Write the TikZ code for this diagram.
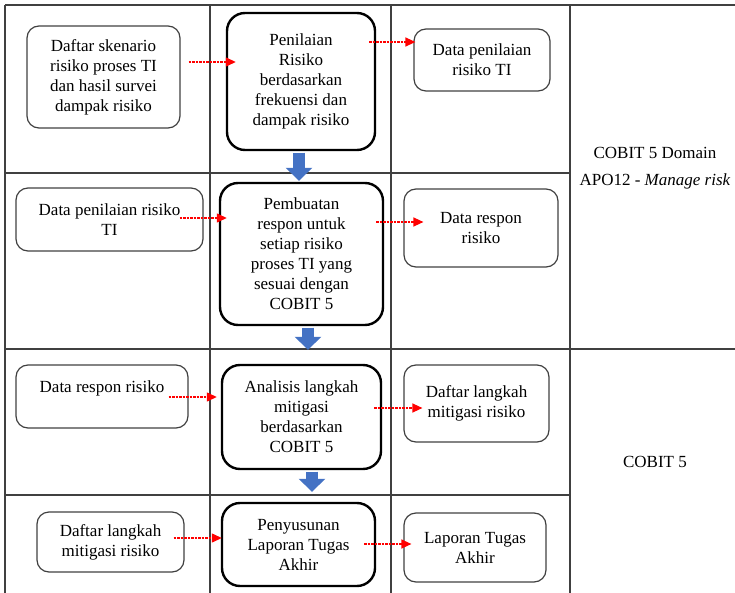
\documentclass[tikz,border=0pt]{standalone}
\usepackage{fontspec}
\setmainfont{Liberation Serif}
\newfontfamily\boxfont{Liberation Serif}
\usepackage{xcolor}
\usepackage{tikz}
\usetikzlibrary{arrows.meta}

\definecolor{flowblue}{HTML}{4472C4}
\definecolor{gridgray}{HTML}{404040}

\begin{document}
\begin{tikzpicture}[
    x=1pt, y=-1pt,
    font=\boxfont\fontsize{17}{20}\selectfont,
    box/.style={rectangle, rounded corners=12pt, draw=gridgray, line width=1.2pt, inner sep=0pt, align=center},
    mainbox/.style={rectangle, rounded corners=18pt, draw=black, line width=2.4pt, inner sep=0pt, align=center},
    flow/.style={-{Triangle[length=10pt,width=9pt]}, red, dash pattern=on 2.5pt off 1pt, line width=1.3pt},
    bigarrow/.style={-{Triangle[length=13pt,width=26pt]}, flowblue, line width=12pt},
    grid/.style={gridgray, line width=1.2pt}
]
    \useasboundingbox (0,0) rectangle (735,593);

    % Table
    \draw[grid] (5,5) -- (735,5);
    \foreach \gx in {5,210,391,570}
        \draw[grid] (\gx,5) -- (\gx,593);
    \draw[grid] (5,173) -- (570,173);
    \draw[grid] (5,349) -- (735,349);
    \draw[grid] (5,495) -- (570,495);

    % Penilaian risiko
    \node[box, minimum width=153pt, minimum height=102pt] (skenario) at (103.5,77) {Daftar skenario\\risiko proses TI\\dan hasil survei\\dampak risiko};
    \node[mainbox, minimum width=148pt, minimum height=137pt] (penilaian) at (301,81.5) {Penilaian\\Risiko\\berdasarkan\\frekuensi dan\\dampak risiko};
    \node[box, minimum width=136pt, minimum height=62pt] (datanilai) at (482,60) {Data penilaian\\risiko TI};

    % Pembuatan respon
    \node[box, minimum width=187pt, minimum height=63pt] (datanilaiin) at (109.5,219.5) {Data penilaian risiko\\TI};
    \node[mainbox, minimum width=163pt, minimum height=142pt] (pembuatan) at (301.5,254) {Pembuatan\\respon untuk\\setiap risiko\\proses TI yang\\sesuai dengan\\COBIT 5};
    \node[box, minimum width=154pt, minimum height=78pt] (datarespon) at (481,228) {Data respon\\risiko};

    % Analisis mitigasi
    \node[box, minimum width=172pt, minimum height=63pt] (dataresponin) at (102,396.5) {Data respon risiko\\\mbox{}};
    \node[mainbox, minimum width=159pt, minimum height=104pt] (analisis) at (301.5,417) {Analisis langkah\\mitigasi\\berdasarkan\\COBIT 5};
    \node[box, minimum width=145pt, minimum height=77pt] (mitigasi) at (476.5,403.5) {Daftar langkah\\mitigasi risiko};

    % Penyusunan laporan
    \node[box, minimum width=147pt, minimum height=60pt] (mitigasiin) at (110.5,542) {Daftar langkah\\mitigasi risiko};
    \node[mainbox, minimum width=153pt, minimum height=83pt] (penyusunan) at (298.5,544.5) {Penyusunan\\Laporan Tugas\\Akhir};
    \node[box, minimum width=142pt, minimum height=69pt] (laporan) at (475,547.5) {Laporan Tugas\\Akhir};

    % Domain
    \node[align=center] (apo) at (655,168.5) {COBIT 5 Domain\\[7pt]APO12 - \textit{Manage risk}};
    \node (cobit) at (655,462) {COBIT 5};

    % Inputs and outputs
    \draw[flow] ([shift={(8,-15)}]skenario.east) -- ([shift={(10,-19.5)}]penilaian.west);
    \draw[flow] ([shift={(-7,-39.5)}]penilaian.east) -- ([shift={(2,-18)}]datanilai.west);
    \draw[flow] ([shift={(-24,-1.5)}]datanilaiin.east) -- ([shift={(8,-36)}]pembuatan.west);
    \draw[flow] ([shift={(-8,-32)}]pembuatan.east) -- ([shift={(20,-6)}]datarespon.west);
    \draw[flow] ([shift={(-20,0.5)}]dataresponin.east) -- ([shift={(-4,-20)}]analisis.west);
    \draw[flow] ([shift={(-8,-9)}]analisis.east) -- ([shift={(19,4.5)}]mitigasi.west);
    \draw[flow] ([shift={(-11,-4)}]mitigasiin.east) -- ([shift={(1,-6.5)}]penyusunan.west);
    \draw[flow] ([shift={(-12,-0.5)}]penyusunan.east) -- ([shift={(8,-3.5)}]laporan.west);

    % Steps
    \draw[bigarrow] ([xshift=-2pt,yshift=-1.5pt]penilaian.south) -- ([xshift=-2.5pt,yshift=1pt]pembuatan.north);
    \draw[bigarrow] ([xshift=6.5pt,yshift=-1.5pt]pembuatan.south) -- ([xshift=6.5pt,yshift=14pt]analisis.north);
    \draw[bigarrow] ([xshift=10.5pt,yshift=-1.5pt]analisis.south) -- ([xshift=13.5pt,yshift=10pt]penyusunan.north);
\end{tikzpicture}
\end{document}
